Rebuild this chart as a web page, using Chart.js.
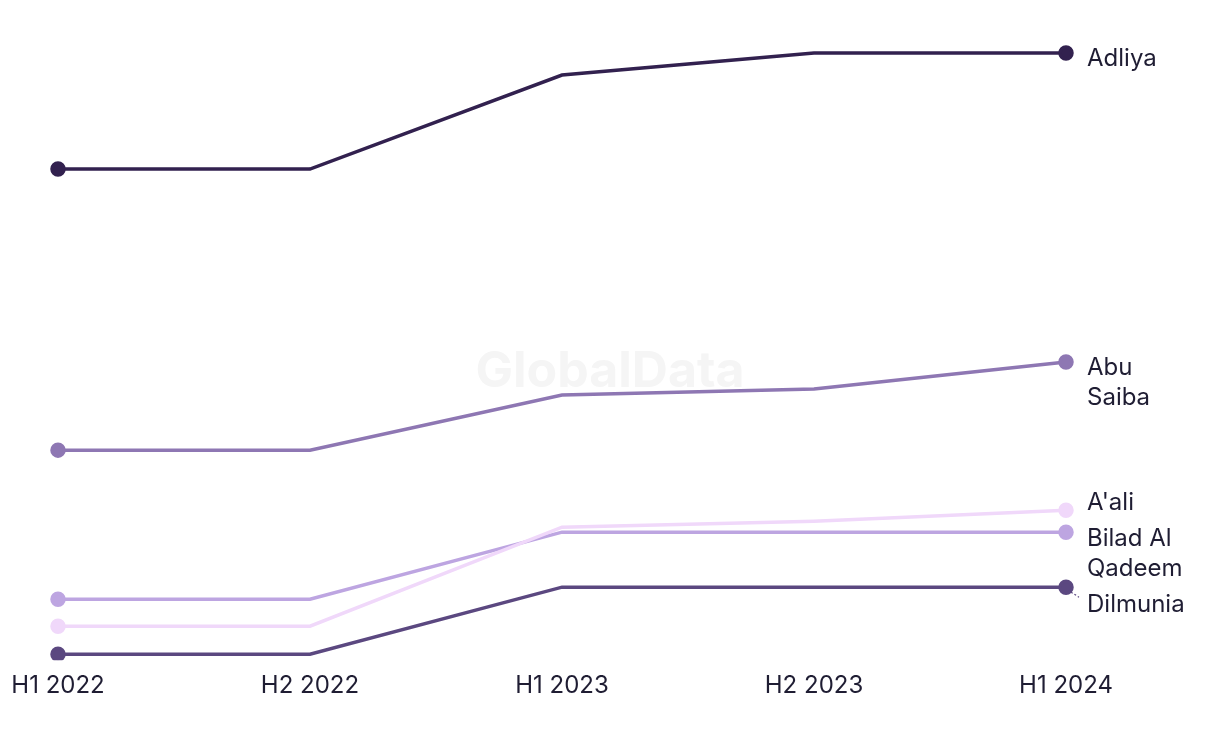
<!DOCTYPE html>
<html>
<head>
<meta charset="utf-8">
<script src="https://cdn.jsdelivr.net/npm/chart.js@4.4.1/dist/chart.umd.min.js"></script>
<style>
  html,body{margin:0;padding:0;background:#fff;}
  #wrap{width:1220px;height:744px;position:relative;}
</style>
</head>
<body>
<div id="wrap"><canvas id="chart"></canvas></div>
<script>
// data (arbitrary index units)
const periods = ['H1 2022','H2 2022','H1 2023','H2 2023','H1 2024'];
const seriesNames = ['Adliya','Abu Saiba',"A'ali",'Bilad Al Qadeem','Dilmunia'];
const adliya   = [53.1, 53.1, 62.5, 64.7, 64.7];
const abuSaiba = [25.0, 25.0, 30.5, 31.1, 33.8];
const aali     = [7.4, 7.4, 17.3, 17.9, 19.0];
const bilad    = [10.1, 10.1, 16.8, 16.8, 16.8];
const dilmunia = [4.6, 4.6, 11.3, 11.3, 11.3];
const labelLines = [['Adliya'],['Abu','Saiba'],["A'ali"],['Bilad Al','Qadeem'],['Dilmunia']];
const colors = ['#32214f','#8e77b3','#f0d8fa','#bda5e1','#5b4880'];

const FONT = 'Inter, "Noto Sans", sans-serif';
const TEXT = '#1f1d33';

// watermark behind lines
const watermark = {
  id:'watermark',
  beforeDatasetsDraw(chart){
    const {ctx} = chart;
    ctx.save();
    ctx.font = 'bold 50px ' + FONT;
    ctx.fillStyle = '#f5f5f5';
    ctx.textAlign = 'center'; ctx.textBaseline = 'middle';
    ctx.fillText('GlobalData', chart.width/2, 372);
    ctx.restore();
  }
};

// end labels with simple collision avoidance
const endLabels = {
  id:'endLabels',
  afterDatasetsDraw(chart){
    const {ctx} = chart;
    const lineH = 30, gap = 6;
    const items = chart.data.datasets.map((ds,i)=>{
      const pts = chart.getDatasetMeta(i).data;
      const p = pts[pts.length-1];
      return {i, x:p.x, y:p.y, lines:labelLines[i], want:p.y+6};
    }).sort((a,b)=>a.y-b.y);
    let clusters = items.map(it=>({items:[it]}));
    const layout = c=>{
      let off = 0;
      c.items.forEach(it=>{ it.off = off; off += it.lines.length*lineH + gap; });
      c.h = off - gap;
      c.top = c.items.reduce((s,it)=>s+(it.want-it.off),0)/c.items.length;
    };
    clusters.forEach(layout);
    let merged = true;
    while(merged){
      merged = false;
      for(let k=0;k<clusters.length-1;k++){
        const a = clusters[k], b = clusters[k+1];
        if(a.top + a.h + gap > b.top){
          a.items = a.items.concat(b.items);
          clusters.splice(k+1,1);
          layout(a);
          merged = true; break;
        }
      }
    }
    ctx.save();
    ctx.font = '24px ' + FONT;
    ctx.textBaseline = 'middle';
    ctx.fillStyle = TEXT;
    clusters.forEach(c=>{
      c.items.forEach(it=>{
        const ly = c.top + it.off;
        const lx = it.x + 21;
        if(Math.abs(ly - it.y) > 9){
          const dir = Math.sign(ly - it.y);
          ctx.save();
          ctx.strokeStyle = colors[it.i];
          ctx.lineWidth = 1.2;
          ctx.setLineDash([2,2]);
          ctx.beginPath();
          ctx.moveTo(it.x + 5, it.y + dir*5);
          ctx.lineTo(lx - 8, ly - dir*8);
          ctx.stroke();
          ctx.restore();
        }
        it.lines.forEach((t,j)=>ctx.fillText(t, lx, ly + j*30));
      });
    });
    ctx.restore();
  }
};

const allSeries = [adliya, abuSaiba, aali, bilad, dilmunia];

new Chart(document.getElementById('chart'), {
  type:'line',
  data:{
    labels: periods,
    datasets: allSeries.map((d,i)=>({
      label: seriesNames[i],
      data: d,
      borderColor: colors[i],
      backgroundColor: colors[i],
      borderWidth: 3.5,
      pointRadius: d.map((v,j)=> (j===0 || j===d.length-1) ? 6 : 0),
      pointHoverRadius: 6,
      tension: 0,
      fill: false
    }))
  },
  options:{
    responsive:true,
    maintainAspectRatio:false,
    animation:false,
    layout:{padding:{left:58, right:154, top:40, bottom:33}},
    plugins:{legend:{display:false}, tooltip:{enabled:false}},
    scales:{
      x:{
        offset:false,
        grid:{display:false, drawTicks:false},
        border:{display:false},
        ticks:{color:TEXT, font:{family:FONT, size:24}, padding:11, maxRotation:0}
      },
      y:{display:false, min:4, max:66}
    }
  },
  plugins:[watermark, endLabels]
});
</script>
</body>
</html>
